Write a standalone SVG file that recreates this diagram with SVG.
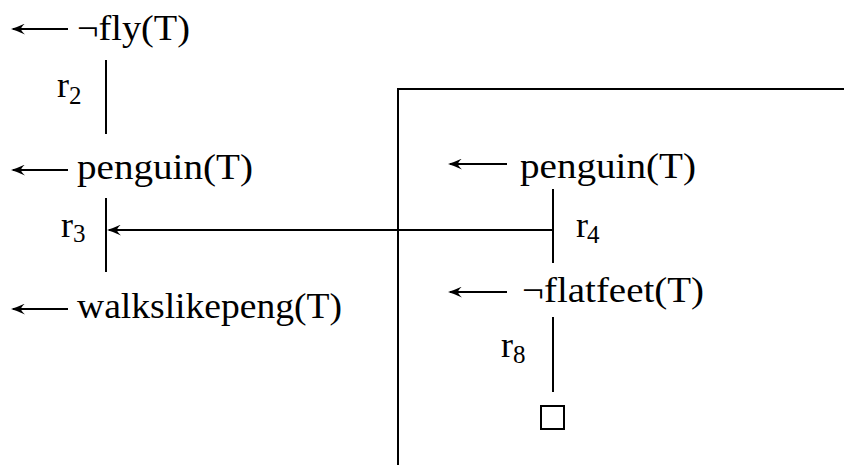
<svg xmlns="http://www.w3.org/2000/svg" width="844" height="465" viewBox="0 0 844 465">
<style>
  .t { font-family: "Liberation Serif", "DejaVu Serif", serif; font-size: 36px; fill: #000; }
  .s { font-family: "Liberation Serif", "DejaVu Serif", serif; font-size: 25px; fill: #000; }
  .ln { stroke: #000; stroke-width: 2; fill: none; }
</style>
<defs>
  <marker id="ah" viewBox="0 0 15 11" refX="13" refY="5.5" markerWidth="15" markerHeight="11" markerUnits="userSpaceOnUse" orient="auto">
    <path d="M15,5.5 Q9,3.8 1,0 Q5,3.8 5,5.5 Q5,7.2 1,11 Q9,7.2 15,5.5 Z" fill="#000"/>
  </marker>
</defs>
<rect width="844" height="465" fill="#fff"/>

<g id="frame">
  <path class="ln" d="M398,465 V89 H844"/>
</g>

<g id="connectors">
  <line class="ln" x1="68" y1="29" x2="13" y2="29" marker-end="url(#ah)"/>
  <line class="ln" x1="68" y1="170" x2="13" y2="170" marker-end="url(#ah)"/>
  <line class="ln" x1="68" y1="309" x2="13" y2="309" marker-end="url(#ah)"/>
  <line class="ln" x1="507" y1="164" x2="450" y2="164" marker-end="url(#ah)"/>
  <line class="ln" x1="507" y1="292" x2="450" y2="292" marker-end="url(#ah)"/>
  <line class="ln" x1="106" y1="60" x2="106" y2="134"/>
  <line class="ln" x1="106" y1="198" x2="106" y2="272"/>
  <line class="ln" x1="553" y1="189" x2="553" y2="263"/>
  <line class="ln" x1="553" y1="317" x2="553" y2="392"/>
  <line class="ln" x1="553" y1="230" x2="109" y2="230" marker-end="url(#ah)"/>
</g>

<g id="node-notfly">
  <text class="t" x="77" y="40" textLength="113" lengthAdjust="spacingAndGlyphs">¬fly(T)</text>
</g>
<g id="node-penguin-left">
  <text class="t" x="77" y="179" textLength="176" lengthAdjust="spacingAndGlyphs">penguin(T)</text>
</g>
<g id="node-walkslikepeng">
  <text class="t" x="77" y="318" textLength="265" lengthAdjust="spacingAndGlyphs">walkslikepeng(T)</text>
</g>
<g id="node-penguin-right">
  <text class="t" x="520" y="178" textLength="176" lengthAdjust="spacingAndGlyphs">penguin(T)</text>
</g>
<g id="node-notflatfeet">
  <text class="t" x="522" y="302" textLength="182" lengthAdjust="spacingAndGlyphs">¬flatfeet(T)</text>
</g>
<g id="node-box">
  <rect class="ln" x="541" y="406" width="23" height="23"/>
</g>

<g id="labels">
  <text class="t" x="57" y="97">r<tspan class="s" x="69" y="104">2</tspan></text>
  <text class="t" x="61" y="237">r<tspan class="s" x="73" y="242">3</tspan></text>
  <text class="t" x="576" y="237">r<tspan class="s" x="587" y="243">4</tspan></text>
  <text class="t" x="501" y="357">r<tspan class="s" x="513" y="363">8</tspan></text>
</g>
</svg>
